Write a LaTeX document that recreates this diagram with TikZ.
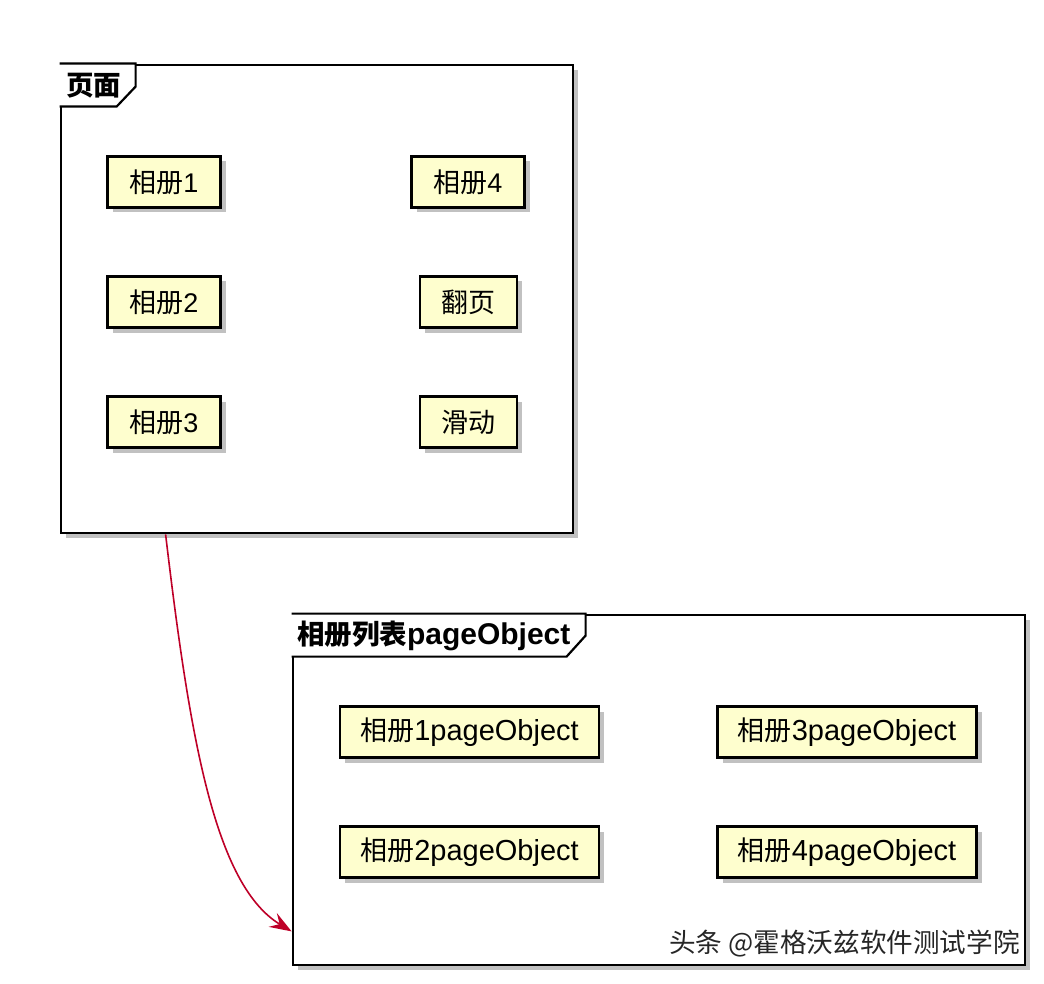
\documentclass[tikz,border=0pt]{standalone}
\usepackage{fontspec}
\setmainfont{Liberation Sans}
\newfontfamily\cjk{Noto Sans CJK SC}
\usepackage{tikz}
\usetikzlibrary{
    arrows.meta,
    shadows,
    positioning,
    calc
}
\definecolor{notefill}{RGB}{254,254,206}
\definecolor{linkred}{RGB}{190,0,40}
\tikzstyle{album} = [
    rectangle,
    draw=black,
    line width=1.1pt,
    fill=notefill,
    minimum width=56.5pt,
    minimum height=25.5pt,
    inner sep=0pt,
    text centered,
    font=\fontsize{13.5}{15}\selectfont,
    drop shadow={shadow xshift=2.5pt, shadow yshift=-2.5pt, fill=black!40, opacity=0.6}
]
\tikzstyle{frame} = [
    rectangle,
    draw=black,
    line width=1.4pt,
    fill=white,
    inner sep=0pt,
    drop shadow={shadow xshift=2.5pt, shadow yshift=-2.5pt, fill=black!40, opacity=0.6}
]
\tikzstyle{frametab} = [
    draw=black,
    line width=1.1pt,
    fill=white
]
\tikzstyle{frametitle} = [
    anchor=west,
    inner sep=0pt,
    font=\fontsize{13.75}{16}\selectfont\bfseries
]
\tikzstyle{arrow} = [
    -{Stealth[length=11pt, width=8pt, inset=4pt]},
    line width=0.8pt,
    draw=linkred
]

\begin{document}
\begin{tikzpicture}[x=0.5pt, y=-0.5pt]
        \useasboundingbox[fill=white] (0,0) rectangle (1044,984);

        % Frames
        \node[frame, minimum width=256pt, minimum height=234pt] (page) at (317,299) {};
        \node[frame, minimum width=366pt, minimum height=175pt] (pagelist) at (659,790) {};

        % Frame tabs
        \draw[frametab] (page.north west) -- ++(76,0) -- ++(0,23) -- ++(-19,20) -- ($(page.north west)+(0,43)$);
        \node[frametitle] (pagetitle) at ($(page.north west)+(6,22)$) {\cjk 页面};
        \draw[frametab] (pagelist.north west) -- ++(294,0) -- ++(0,22) -- ++(-19,21) -- ($(pagelist.north west)+(0,43)$);
        \node[frametitle] (pagelisttitle) at ($(pagelist.north west)+(5,22)$) {{\cjk 相册列表}{\fontsize{15}{17}\selectfont pageObject}};

        % Nodes
        \node[album] (album1) at (164,182) {{\cjk 相册}1};
        \node[album] (album2) at (164,302) {{\cjk 相册}2};
        \node[album] (album3) at (164,422) {{\cjk 相册}3};
        \node[album] (album4) at (468,182) {{\cjk 相册}4};
        \node[album, minimum width=48.5pt] (flip) at (468.5,302) {\cjk 翻页};
        \node[album, minimum width=48.5pt] (slide) at (468.5,422) {\cjk 滑动};

        \node[album, minimum width=129.5pt] (obj1) at (469.5,732) {{\cjk 相册}{\fontsize{14.5}{15}\selectfont 1pageObject}};
        \node[album, minimum width=129.5pt] (obj2) at (469.5,852) {{\cjk 相册}{\fontsize{14.5}{15}\selectfont 2pageObject}};
        \node[album, minimum width=129.5pt] (obj3) at (847,732) {{\cjk 相册}{\fontsize{14.5}{15}\selectfont 3pageObject}};
        \node[album, minimum width=129.5pt] (obj4) at (847,852) {{\cjk 相册}{\fontsize{14.5}{15}\selectfont 4pageObject}};

        % Link
        \coordinate (linkstart) at ($(page.south west)+(106,0)$);
        \coordinate (linkend) at ($(pagelist.south west)+(0,-35)$);
        \draw[arrow] (linkstart) .. controls (190,740) and (215,885) .. (linkend);

        % Watermark
        \node[anchor=east, inner sep=0pt, font=\fontsize{13.3}{15}\selectfont\cjk, text=black!85] (mark) at (1020,944) {头条 @霍格沃兹软件测试学院};
    \end{tikzpicture}
\end{document}
